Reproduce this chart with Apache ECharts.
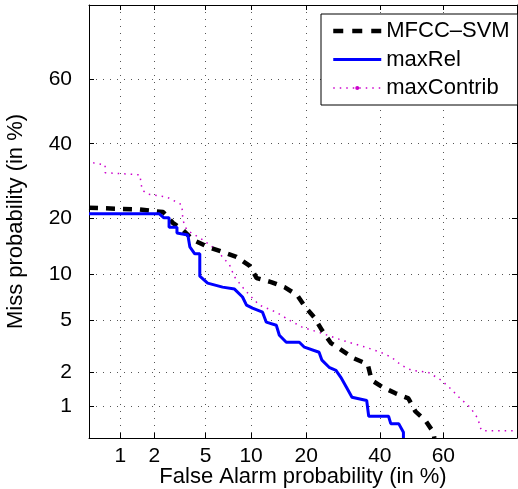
<!DOCTYPE html>
<html>
<head>
<meta charset="utf-8">
<script src="https://cdn.jsdelivr.net/npm/echarts@6/dist/echarts.min.js"></script>
<style>
html, body { margin: 0; padding: 0; background: #fff; }
#main { width: 518px; height: 489px; }
</style>
</head>
<body>
<div id="main"></div>
<script>
// tick labels (percent) and axis range, both axes are probit scaled
var tickPercents = [1, 2, 5, 10, 20, 40, 60];
var axisRange = [0.5, 80];

var seriesNames = ['MFCC\u2013SVM', 'maxRel', 'maxContrib'];

// MFCC-SVM
var mfccFa = [0.5, 1.5, 2.36, 2.83, 3.39, 4.03, 5.17, 6.56, 8.1, 9.77, 10.8, 13.1, 15.5, 18.0, 19.8, 21.8, 23.7, 26.0, 28.9, 32.2, 36.3, 37.5, 40.9, 44.9, 49.0, 51.2, 54.4, 56.9, 57.2];
var mfccMiss = [22.4, 22.0, 21.4, 19.0, 17.5, 15.6, 14.3, 13.4, 12.6, 11.2, 9.45, 8.93, 8.3, 7.4, 6.15, 5.24, 4.23, 3.38, 2.98, 2.58, 2.31, 1.70, 1.48, 1.31, 1.18, 0.90, 0.74, 0.57, 0.5];

// maxRel
var relFa = [0.5, 2.2, 2.4, 2.64, 2.64, 3.05, 3.05, 3.7, 3.83, 4.17, 4.54, 4.54, 5.17, 6.56, 7.87, 8.85, 9.37, 10.2, 11.7, 12.3, 14.0, 14.55, 15.85, 18.5, 19.6, 23.0, 23.7, 25.5, 27.3, 28.6, 30.3, 31.7, 36.0, 36.6, 42.7, 43.4, 45.9, 47.4, 47.4];
var relMiss = [21.0, 21.0, 20.1, 20.1, 18.1, 18.1, 16.9, 16.5, 14.3, 13.1, 13.1, 9.7, 8.8, 8.3, 8.07, 7.17, 6.34, 6.05, 5.67, 4.83, 4.59, 3.88, 3.44, 3.44, 3.15, 2.88, 2.49, 2.18, 2.06, 1.80, 1.45, 1.21, 1.13, 0.81, 0.81, 0.69, 0.69, 0.57, 0.5];

// maxContrib
var contribFa = [0.55, 0.72, 0.72, 1.5, 1.57, 1.73, 2.54, 3.33, 3.39, 3.63, 4.77, 5.98, 7.31, 7.87, 8.85, 9.77, 11.2, 14.0, 16.4, 19.1, 23.7, 28.9, 35.7, 40.2, 43.6, 46.8, 50.0, 55.3, 59.4, 62.1, 65.1, 68.0, 70.2, 70.8, 71.3, 80];
var contribMiss = [34.3, 33.7, 31.5, 30.9, 26.9, 25.8, 25.0, 23.1, 19.6, 17.5, 15.6, 13.7, 11.3, 9.6, 8.3, 7.4, 6.34, 5.67, 5.0, 4.45, 4.01, 3.56, 3.15, 2.88, 2.63, 2.26, 2.06, 1.98, 1.70, 1.45, 1.18, 0.98, 0.77, 0.635, 0.59, 0.59];

// inverse normal cdf (Acklam), input in percent
function probit(pct) {
    var p = pct / 100;
    var a = [-3.969683028665376e+01, 2.209460984245205e+02, -2.759285104469687e+02, 1.383577518672690e+02, -3.066479806614716e+01, 2.506628277459239e+00];
    var b = [-5.447609879822406e+01, 1.615858368580409e+02, -1.556989798598866e+02, 6.680131188771972e+01, -1.328068155288572e+01];
    var c = [-7.784894002430293e-03, -3.223964580411365e-01, -2.400758277161838e+00, -2.549732539343734e+00, 4.374664141464968e+00, 2.938163982698783e+00];
    var d = [7.784695709041462e-03, 3.224671290700398e-01, 2.445134137142996e+00, 3.754408661907416e+00];
    var pl = 0.02425, q, r;
    if (p < pl) {
        q = Math.sqrt(-2 * Math.log(p));
        return (((((c[0] * q + c[1]) * q + c[2]) * q + c[3]) * q + c[4]) * q + c[5]) / ((((d[0] * q + d[1]) * q + d[2]) * q + d[3]) * q + 1);
    }
    if (p <= 1 - pl) {
        q = p - 0.5;
        r = q * q;
        return (((((a[0] * r + a[1]) * r + a[2]) * r + a[3]) * r + a[4]) * r + a[5]) * q / (((((b[0] * r + b[1]) * r + b[2]) * r + b[3]) * r + b[4]) * r + 1);
    }
    q = Math.sqrt(-2 * Math.log(1 - p));
    return -(((((c[0] * q + c[1]) * q + c[2]) * q + c[3]) * q + c[4]) * q + c[5]) / ((((d[0] * q + d[1]) * q + d[2]) * q + d[3]) * q + 1);
}

function toPoints(fa, miss) {
    var out = [];
    for (var i = 0; i < fa.length; i++) {
        out.push([probit(fa[i]), probit(miss[i])]);
    }
    return out;
}

var tickValues = tickPercents.map(probit);

function tickLabel(v) {
    for (var i = 0; i < tickValues.length; i++) {
        if (Math.abs(tickValues[i] - v) < 1e-6) return String(tickPercents[i]);
    }
    return '';
}

var FONT = 'Liberation Sans, Arial, Helvetica, sans-serif';

function makeAxis(position, main, name, nameGap, labelMargin) {
    return {
        type: 'value',
        position: position,
        min: probit(axisRange[0]),
        max: probit(axisRange[1]),
        name: main ? name : '',
        nameLocation: 'middle',
        nameGap: nameGap,
        nameMoveOverlap: false,
        nameTextStyle: { color: '#000', fontSize: 22, fontFamily: FONT },
        axisLine: { show: true, onZero: false, lineStyle: { color: '#000', width: 1 } },
        axisTick: { show: true, inside: true, length: 5, customValues: tickValues, lineStyle: { color: '#000' } },
        axisLabel: {
            show: main,
            customValues: tickValues,
            formatter: tickLabel,
            color: '#000',
            fontSize: 21,
            fontFamily: FONT,
            margin: labelMargin
        },
        splitLine: { show: main, lineStyle: { color: '#555', width: 1, type: [1, 6] } }
    };
}

var chart = echarts.init(document.getElementById('main'));

var option = {
    animation: false,
    backgroundColor: '#fff',
    grid: { left: 89, right: 1, top: 5, bottom: 51, containLabel: false, outerBoundsMode: 'none' },
    legend: {
        orient: 'vertical',
        left: 321,
        top: 14,
        padding: [6, 8, 6, 10],
        itemWidth: 48,
        itemHeight: 5,
        itemGap: 6.5,
        backgroundColor: '#fff',
        borderColor: '#000',
        borderWidth: 1,
        borderRadius: 0,
        textStyle: { color: '#000', fontSize: 22, fontFamily: FONT, lineHeight: 20 },
        data: [
            { name: seriesNames[0], itemStyle: { opacity: 0 }, lineStyle: { width: 4.5, type: [10, 9] } },
            { name: seriesNames[1], itemStyle: { opacity: 0 }, lineStyle: { width: 3 } },
            { name: seriesNames[2], lineStyle: { width: 1.5 } }
        ]
    },
    xAxis: [
        makeAxis('bottom', true, 'False Alarm probability (in %)', 28, 8),
        makeAxis('top', false, '', 0, 0)
    ],
    yAxis: [
        makeAxis('left', true, 'Miss probability (in %)', 62, 17),
        makeAxis('right', false, '', 0, 0)
    ],
    series: [
        {
            name: seriesNames[0],
            type: 'line',
            data: toPoints(mfccFa, mfccMiss),
            symbol: 'none',
            lineStyle: { color: '#000', width: 4.5, type: [9, 8] },
            itemStyle: { color: '#000' },
            z: 3
        },
        {
            name: seriesNames[1],
            type: 'line',
            data: toPoints(relFa, relMiss),
            symbol: 'none',
            lineStyle: { color: '#0000ff', width: 3 },
            itemStyle: { color: '#0000ff' },
            z: 4
        },
        {
            name: seriesNames[2],
            type: 'line',
            data: toPoints(contribFa, contribMiss),
            symbol: 'circle',
            symbolSize: 4,
            showSymbol: false,
            lineStyle: { color: '#cc00cc', width: 1.5, type: [1.5, 5] },
            itemStyle: { color: '#cc00cc' },
            z: 2
        }
    ]
};

chart.setOption(option);
</script>
</body>
</html>
